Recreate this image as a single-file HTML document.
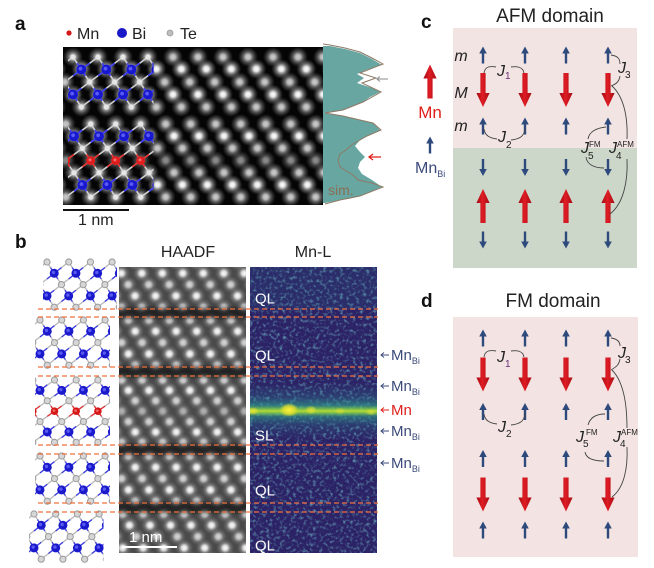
<!DOCTYPE html>
<html><head><meta charset="utf-8"><style>
html,body{margin:0;padding:0;background:#fff;}
svg{display:block;}
</style></head><body>
<svg width="654" height="568" viewBox="0 0 654 568" xmlns="http://www.w3.org/2000/svg" font-family="'Liberation Sans', Arial, sans-serif">
<defs>
  <radialGradient id="blobA">
    <stop offset="0" stop-color="#ffffff" stop-opacity="1"/>
    <stop offset="0.25" stop-color="#f0f0f0" stop-opacity="0.95"/>
    <stop offset="0.55" stop-color="#a8a8a8" stop-opacity="0.6"/>
    <stop offset="1" stop-color="#707070" stop-opacity="0"/>
  </radialGradient>
  <radialGradient id="blobB">
    <stop offset="0" stop-color="#ffffff" stop-opacity="1"/>
    <stop offset="0.3" stop-color="#e8e8e8" stop-opacity="0.9"/>
    <stop offset="0.6" stop-color="#a0a0a0" stop-opacity="0.45"/>
    <stop offset="1" stop-color="#707070" stop-opacity="0"/>
  </radialGradient>
  <radialGradient id="yel">
    <stop offset="0" stop-color="#fff23a" stop-opacity="1"/>
    <stop offset="0.6" stop-color="#e4e030" stop-opacity="0.8"/>
    <stop offset="1" stop-color="#c0dc30" stop-opacity="0"/>
  </radialGradient>
  <linearGradient id="band" x1="0" y1="0" x2="0" y2="1">
    <stop offset="0" stop-color="#2a7f8e" stop-opacity="0"/>
    <stop offset="0.25" stop-color="#2a7f8e" stop-opacity="0.3"/>
    <stop offset="0.4" stop-color="#2f9a88" stop-opacity="0.7"/>
    <stop offset="0.46" stop-color="#7ccc50" stop-opacity="0.85"/>
    <stop offset="0.5" stop-color="#b4dc30" stop-opacity="1"/>
    <stop offset="0.54" stop-color="#7ccc50" stop-opacity="0.85"/>
    <stop offset="0.6" stop-color="#2f9a88" stop-opacity="0.6"/>
    <stop offset="0.76" stop-color="#2a7f8e" stop-opacity="0.25"/>
    <stop offset="1" stop-color="#2a7f8e" stop-opacity="0"/>
  </linearGradient>
  <linearGradient id="redG" x1="0" y1="0" x2="1" y2="0">
    <stop offset="0" stop-color="#a00a12"/>
    <stop offset="0.45" stop-color="#e01c24"/>
    <stop offset="1" stop-color="#a80c14"/>
  </linearGradient>
  <filter id="nz" x="0" y="0" width="1" height="1">
    <feTurbulence type="fractalNoise" baseFrequency="0.3" numOctaves="2" seed="7"/>
    <feColorMatrix type="matrix" values="0 0 0 0 0.15  0 0 0 0 0.45  0 0 0 0 0.55  2.6 0 0 0 -1.3"/>
  </filter>
  <filter id="bl2"><feGaussianBlur stdDeviation="2"/></filter>

  <clipPath id="clipImgA"><rect x="63" y="47" width="260" height="158"/></clipPath>
  <clipPath id="clipImgB"><rect x="119" y="267" width="127" height="286"/></clipPath>
  <clipPath id="clipMn"><rect x="250" y="267" width="127" height="286"/></clipPath>
  <clipPath id="cA1"><rect x="68" y="50" width="85.6" height="62"/></clipPath>
  <clipPath id="cA2"><rect x="68" y="117" width="85.6" height="87"/></clipPath>
  <clipPath id="cB1"><rect x="43" y="255" width="74" height="57"/></clipPath>
  <clipPath id="cB2"><rect x="35" y="313" width="75" height="57"/></clipPath>
  <clipPath id="cB3"><rect x="35" y="373" width="75" height="75"/></clipPath>
  <clipPath id="cB4"><rect x="35" y="449" width="75" height="57"/></clipPath>
  <clipPath id="cB5"><rect x="29" y="507" width="74.5" height="61"/></clipPath>

  <g id="rowA">
    <circle cx="0" r="10" fill="url(#blobA)"/><circle cx="25" r="10" fill="url(#blobA)"/>
    <circle cx="50" r="10" fill="url(#blobA)"/><circle cx="75" r="10" fill="url(#blobA)"/>
    <circle cx="100" r="10" fill="url(#blobA)"/><circle cx="125" r="10" fill="url(#blobA)"/>
    <circle cx="150" r="10" fill="url(#blobA)"/><circle cx="175" r="10" fill="url(#blobA)"/>
    <circle cx="200" r="10" fill="url(#blobA)"/><circle cx="225" r="10" fill="url(#blobA)"/>
    <circle cx="250" r="10" fill="url(#blobA)"/><circle cx="275" r="10" fill="url(#blobA)"/>
    <circle cx="300" r="10" fill="url(#blobA)"/><circle cx="325" r="10" fill="url(#blobA)"/>
  </g>
  <g id="rowB">
    <circle cx="0" r="9" fill="url(#blobB)"/><circle cx="20.5" r="9" fill="url(#blobB)"/>
    <circle cx="41" r="9" fill="url(#blobB)"/><circle cx="61.5" r="9" fill="url(#blobB)"/>
    <circle cx="82" r="9" fill="url(#blobB)"/><circle cx="102.5" r="9" fill="url(#blobB)"/>
    <circle cx="123" r="9" fill="url(#blobB)"/><circle cx="143.5" r="9" fill="url(#blobB)"/>
    <circle cx="164" r="9" fill="url(#blobB)"/>
  </g>

  <g id="teB"><circle r="3.1" fill="#d6d6d6" stroke="#9a9a9a" stroke-width="1"/></g>
  <g id="biB"><path d="M0,0L-3.62,-5.65M0,0L3.62,5.65M0,0L7.24,-5.65M0,0L-7.24,5.65" stroke="#3a3ae6" stroke-width="1.3"/><circle r="4.5" fill="#1a1acc"/><circle cx="-0.8" cy="-0.8" r="1.7" fill="#5a5af0"/></g>
  <g id="mnB"><path d="M0,0L-3.62,-5.2M0,0L3.62,5.2M0,0L7.24,-5.2M0,0L-7.24,5.2" stroke="#e03030" stroke-width="1.3"/><circle r="3.8" fill="#d41818"/><circle cx="-0.6" cy="-0.6" r="1.4" fill="#f06060"/></g>
  <g id="teA"><circle r="2.6" fill="#e6e6e6"/></g>
  <g id="biA"><path d="M0,0L-4.17,-6.25M0,0L4.17,6.25M0,0L8.33,-6.25M0,0L-8.33,6.25" stroke="#3a3aff" stroke-width="1.6"/><circle r="5" fill="#1818d0"/><circle cx="-0.9" cy="-0.9" r="1.9" fill="#5a5af5"/></g>
  <g id="mnA"><path d="M0,0L-4.17,-6.1M0,0L4.17,6.1M0,0L8.33,-6.1M0,0L-8.33,6.1" stroke="#e83030" stroke-width="1.6"/><circle r="4.4" fill="#e01c1c"/><circle cx="-0.7" cy="-0.7" r="1.5" fill="#f56a6a"/></g>

  <path id="qlBbu" d="M0,0L7.23,11.3L14.47,22.6L21.7,33.9L28.93,45.2M0,0L-14.47,11.3M7.23,11.3L-7.24,22.6M14.47,22.6L0,33.9M21.7,33.9L7.23,45.2" fill="none" stroke="#b8b8b8" stroke-width="1.3"/>
  <g id="qlBau"><use href="#biB" x="7.23" y="11.3"/><use href="#biB" x="21.7" y="33.9"/><use href="#teB" x="0" y="0"/><use href="#teB" x="14.47" y="22.6"/><use href="#teB" x="28.93" y="45.2"/></g>
  <path id="slBbu" d="M0,0L7.23,10.4L14.47,20.8L21.7,31.2L28.93,41.6L36.17,52L43.4,62.4M0,0L-14.47,10.4M7.23,10.4L-7.24,20.8M14.47,20.8L0,31.2M21.7,31.2L7.23,41.6M28.93,41.6L14.46,52M36.17,52L21.7,62.4" fill="none" stroke="#b8b8b8" stroke-width="1.3"/>
  <g id="slBau"><use href="#teB" x="0" y="0"/><use href="#biB" x="7.23" y="10.4"/><use href="#teB" x="14.47" y="20.8"/><use href="#mnB" x="21.7" y="31.2"/><use href="#teB" x="28.93" y="41.6"/><use href="#biB" x="36.17" y="52"/><use href="#teB" x="43.4" y="62.4"/></g>

  <g id="qlBb"><use href="#qlBbu" x="-86.8"/><use href="#qlBbu" x="-65.1"/><use href="#qlBbu" x="-43.4"/><use href="#qlBbu" x="-21.7"/><use href="#qlBbu" x="0"/><use href="#qlBbu" x="21.7"/><use href="#qlBbu" x="43.4"/><use href="#qlBbu" x="65.1"/><use href="#qlBbu" x="86.8"/></g>
  <g id="qlBa"><use href="#qlBau" x="-86.8"/><use href="#qlBau" x="-65.1"/><use href="#qlBau" x="-43.4"/><use href="#qlBau" x="-21.7"/><use href="#qlBau" x="0"/><use href="#qlBau" x="21.7"/><use href="#qlBau" x="43.4"/><use href="#qlBau" x="65.1"/><use href="#qlBau" x="86.8"/></g>
  <g id="slBb"><use href="#slBbu" x="-86.8"/><use href="#slBbu" x="-65.1"/><use href="#slBbu" x="-43.4"/><use href="#slBbu" x="-21.7"/><use href="#slBbu" x="0"/><use href="#slBbu" x="21.7"/><use href="#slBbu" x="43.4"/><use href="#slBbu" x="65.1"/><use href="#slBbu" x="86.8"/></g>
  <g id="slBa"><use href="#slBau" x="-86.8"/><use href="#slBau" x="-65.1"/><use href="#slBau" x="-43.4"/><use href="#slBau" x="-21.7"/><use href="#slBau" x="0"/><use href="#slBau" x="21.7"/><use href="#slBau" x="43.4"/><use href="#slBau" x="65.1"/><use href="#slBau" x="86.8"/></g>

  <path id="qlAbu" d="M0,0L8.33,12.5L16.67,25L25,37.5L33.33,50M0,0L-16.67,12.5M8.33,12.5L-8.34,25M16.67,25L0,37.5M25,37.5L8.33,50" fill="none" stroke="#d0d0d0" stroke-width="1.6"/>
  <g id="qlAau"><use href="#biA" x="8.33" y="12.5"/><use href="#biA" x="25" y="37.5"/><use href="#teA" x="0" y="0"/><use href="#teA" x="16.67" y="25"/><use href="#teA" x="33.33" y="50"/></g>
  <path id="slAbu" d="M0,0L8.33,12.2L16.67,24.4L25,36.6L33.33,48.8L41.67,61L50,73.2M0,0L-16.67,12.2M8.33,12.2L-8.34,24.4M16.67,24.4L0,36.6M25,36.6L8.33,48.8M33.33,48.8L16.66,61M41.67,61L25,73.2" fill="none" stroke="#d0d0d0" stroke-width="1.6"/>
  <g id="slAau"><use href="#teA" x="0" y="0"/><use href="#biA" x="8.33" y="12.2"/><use href="#teA" x="16.67" y="24.4"/><use href="#mnA" x="25" y="36.6"/><use href="#teA" x="33.33" y="48.8"/><use href="#biA" x="41.67" y="61"/><use href="#teA" x="50" y="73.2"/></g>
  <g id="qlAb"><use href="#qlAbu" x="-100"/><use href="#qlAbu" x="-75"/><use href="#qlAbu" x="-50"/><use href="#qlAbu" x="-25"/><use href="#qlAbu" x="0"/><use href="#qlAbu" x="25"/><use href="#qlAbu" x="50"/><use href="#qlAbu" x="75"/><use href="#qlAbu" x="100"/></g>
  <g id="qlAa"><use href="#qlAau" x="-100"/><use href="#qlAau" x="-75"/><use href="#qlAau" x="-50"/><use href="#qlAau" x="-25"/><use href="#qlAau" x="0"/><use href="#qlAau" x="25"/><use href="#qlAau" x="50"/><use href="#qlAau" x="75"/><use href="#qlAau" x="100"/></g>
  <g id="slAb"><use href="#slAbu" x="-100"/><use href="#slAbu" x="-75"/><use href="#slAbu" x="-50"/><use href="#slAbu" x="-25"/><use href="#slAbu" x="0"/><use href="#slAbu" x="25"/><use href="#slAbu" x="50"/><use href="#slAbu" x="75"/><use href="#slAbu" x="100"/></g>
  <g id="slAa"><use href="#slAau" x="-100"/><use href="#slAau" x="-75"/><use href="#slAau" x="-50"/><use href="#slAau" x="-25"/><use href="#slAau" x="0"/><use href="#slAau" x="25"/><use href="#slAau" x="50"/><use href="#slAau" x="75"/><use href="#slAau" x="100"/></g>

  <path id="sU" d="M-1.2,8.5V-1.5H-3.8L0,-8.5L3.8,-1.5H1.2V8.5Z" fill="#2e4a7d"/>
  <path id="sD" d="M-1.2,-8.5V1.5H-3.8L0,8.5L3.8,1.5H1.2V-8.5Z" fill="#2e4a7d"/>
  <path id="bD" d="M-2.6,-17H2.6V3H6.6L0,17L-6.6,3H-2.6Z" fill="url(#redG)"/>
  <path id="bU" d="M-2.6,17H2.6V-3H6.6L0,-17L-6.6,-3H-2.6Z" fill="url(#redG)"/>
  <g id="rSU"><use href="#sU" x="483"/><use href="#sU" x="525"/><use href="#sU" x="566"/><use href="#sU" x="608"/></g>
  <g id="rSD"><use href="#sD" x="483"/><use href="#sD" x="525"/><use href="#sD" x="566"/><use href="#sD" x="608"/></g>
  <g id="rBD"><use href="#bD" x="483"/><use href="#bD" x="525"/><use href="#bD" x="566"/><use href="#bD" x="608"/></g>
  <g id="rBU"><use href="#bU" x="483"/><use href="#bU" x="525"/><use href="#bU" x="566"/><use href="#bU" x="608"/></g>
</defs>

<rect width="654" height="568" fill="#fff"/>

<!-- ================= Panel a ================= -->
<text x="15" y="30" font-size="19" font-weight="bold" fill="#111">a</text>
<circle cx="69" cy="33" r="2.6" fill="#d41818"/>
<text x="77" y="39" font-size="16" fill="#222">Mn</text>
<circle cx="122" cy="33" r="5" fill="#1818c8"/>
<text x="132" y="39" font-size="16" fill="#222">Bi</text>
<circle cx="170" cy="33" r="3" fill="#bdbdbd" stroke="#999" stroke-width="0.8"/>
<text x="180" y="39" font-size="16" fill="#222">Te</text>

<g clip-path="url(#clipImgA)">
  <rect x="63" y="47" width="260" height="158" fill="#050505"/>
  <use href="#rowA" x="23" y="57" opacity="0.8"/>
  <use href="#rowA" x="31.3" y="69" opacity="1"/>
  <use href="#rowA" x="39.7" y="82" opacity="0.8"/>
  <use href="#rowA" x="48" y="94.5" opacity="1"/>
  <use href="#rowA" x="31.3" y="107" opacity="0.8"/>
  <use href="#rowA" x="15.7" y="124" opacity="0.8"/>
  <use href="#rowA" x="24" y="136" opacity="1"/>
  <use href="#rowA" x="32.4" y="148.2" opacity="0.8"/>
  <use href="#rowA" x="40.7" y="160.4" opacity="0.55"/>
  <use href="#rowA" x="49" y="172.6" opacity="0.8"/>
  <use href="#rowA" x="32.4" y="184.8" opacity="1"/>
  <use href="#rowA" x="40.7" y="197" opacity="0.8"/>
</g>
<g clip-path="url(#cA1)">
  <use href="#qlAb" x="73" y="57"/><use href="#qlAa" x="73" y="57"/>
</g>
<g clip-path="url(#cA2)">
  <use href="#slAb" x="65.7" y="124"/><use href="#slAa" x="65.7" y="124"/>
</g>
<line x1="63" y1="210" x2="129" y2="210" stroke="#111" stroke-width="2"/>
<text x="78" y="225" font-size="16" fill="#222">1 nm</text>

<polygon points="323,46 330,46 345,49 360,53 372,59 382,65 366,70 357,74 364,78 357,83 372,88 380,92 370,97 363,102 350,107 343,110 330,112 324,113 330,114 343,116 360,120 373,123 380,130 367,136 360,140 355,146 360,152 365,157 360,162 358,168 362,174 372,180 382,187 370,192 360,196 348,199 340,200 325,203 323,203" fill="#68a6a2"/>
<path d="M323,44 L330,45 L345,48 L360,52 L372,58 L383,64 L360,73 L376,78 L362,83 L381,92 L363,102 L343,110 L325,113 L343,116 L360,120 L373,123 L381,130 L367,136 L360,140 L353,144 L346,150 L340,154 L338,160 L340,167 L346,171 L353,175 L358,180 L372,183 L383,187 L360,196 L340,200 L325,204" fill="none" stroke="#8e7a66" stroke-width="1"/>
<path d="M388,79 H377 M380,76.5 L377,79 L380,81.5" fill="none" stroke="#8a8a8a" stroke-width="1"/>
<path d="M381,157 H369 M373,154 L369,157 L373,160" fill="none" stroke="#e0201a" stroke-width="1.3"/>
<text x="328" y="195" font-size="14" fill="#8b6e55">sim.</text>

<!-- ================= Panel b ================= -->
<text x="15" y="248" font-size="19" font-weight="bold" fill="#111">b</text>
<text x="188" y="257" font-size="16" fill="#222" text-anchor="middle">HAADF</text>
<text x="313" y="257" font-size="16" fill="#222" text-anchor="middle">Mn-L</text>

<g clip-path="url(#cB1)"><use href="#qlBb" x="47" y="262"/><use href="#qlBa" x="47" y="262"/></g>
<g clip-path="url(#cB2)"><use href="#qlBb" x="40" y="320"/><use href="#qlBa" x="40" y="320"/></g>
<g clip-path="url(#cB3)"><use href="#slBb" x="32.8" y="380"/><use href="#slBa" x="32.8" y="380"/></g>
<g clip-path="url(#cB4)"><use href="#qlBb" x="40" y="456"/><use href="#qlBa" x="40" y="456"/></g>
<g clip-path="url(#cB5)"><use href="#qlBb" x="34" y="514"/><use href="#qlBa" x="34" y="514"/></g>

<g clip-path="url(#clipImgB)">
  <rect x="119" y="267" width="127" height="286" fill="#4a4a4a"/>
  <use href="#rowB" x="94" y="262" opacity="0.8"/>
  <use href="#rowB" x="100.8" y="273.3" opacity="1"/>
  <use href="#rowB" x="107.7" y="284.6" opacity="0.8"/>
  <use href="#rowB" x="94" y="295.9" opacity="1"/>
  <use href="#rowB" x="100.8" y="307.2" opacity="0.8"/>
  <use href="#rowB" x="107.9" y="320" opacity="0.8"/>
  <use href="#rowB" x="94.2" y="331.3" opacity="1"/>
  <use href="#rowB" x="101.1" y="342.6" opacity="0.8"/>
  <use href="#rowB" x="107.9" y="353.9" opacity="1"/>
  <use href="#rowB" x="94.2" y="365.2" opacity="0.8"/>
  <use href="#rowB" x="101.1" y="380" opacity="0.8"/>
  <use href="#rowB" x="107.9" y="390.4" opacity="1"/>
  <use href="#rowB" x="94.2" y="400.8" opacity="0.8"/>
  <use href="#rowB" x="101.1" y="411.2" opacity="0.6"/>
  <use href="#rowB" x="107.9" y="421.6" opacity="0.8"/>
  <use href="#rowB" x="94.2" y="432" opacity="1"/>
  <use href="#rowB" x="101.1" y="442.4" opacity="0.8"/>
  <use href="#rowB" x="107.9" y="456" opacity="0.8"/>
  <use href="#rowB" x="94.2" y="467.3" opacity="1"/>
  <use href="#rowB" x="101.1" y="478.6" opacity="0.8"/>
  <use href="#rowB" x="107.9" y="489.9" opacity="1"/>
  <use href="#rowB" x="94.2" y="501.2" opacity="0.8"/>
  <use href="#rowB" x="102.2" y="514" opacity="0.8"/>
  <use href="#rowB" x="109" y="525.3" opacity="1"/>
  <use href="#rowB" x="95.3" y="536.6" opacity="0.8"/>
  <use href="#rowB" x="102.2" y="547.9" opacity="1"/>
  <use href="#rowB" x="109" y="559.2" opacity="0.8"/>
  <g filter="url(#bl2)" fill="#0c0c0c" opacity="0.65">
    <rect x="110" y="308" width="145" height="10"/>
    <rect x="110" y="366.5" width="145" height="10"/>
    <rect x="110" y="444.5" width="145" height="10"/>
    <rect x="110" y="502.5" width="145" height="10"/>
  </g>
</g>
<line x1="122" y1="547" x2="177" y2="547" stroke="#fff" stroke-width="2"/>
<text x="129" y="542" font-size="15" fill="#fff">1 nm</text>

<g clip-path="url(#clipMn)">
  <rect x="250" y="267" width="127" height="286" fill="#2c2366"/>
  <rect x="250" y="267" width="127" height="286" filter="url(#nz)" opacity="0.8"/>
  <rect x="250" y="267" width="127" height="42" fill="#2a7f8e" opacity="0.12"/>
  <rect x="250" y="383" width="127" height="56" fill="url(#band)"/>
  <ellipse cx="289" cy="410" rx="10" ry="7" fill="url(#yel)"/>
  <ellipse cx="311" cy="410" rx="6" ry="4.5" fill="url(#yel)" opacity="0.6"/>
  <ellipse cx="253" cy="411" rx="6" ry="4" fill="url(#yel)" opacity="0.7"/>
  <ellipse cx="340" cy="411" rx="6" ry="3.5" fill="url(#yel)" opacity="0.4"/>
  <ellipse cx="371" cy="412" rx="6" ry="3.5" fill="url(#yel)" opacity="0.5"/>
</g>
<g font-size="15" fill="#fff">
  <text x="255" y="303.5">QL</text>
  <text x="255" y="360.5">QL</text>
  <text x="255" y="440.5">SL</text>
  <text x="255" y="495.5">QL</text>
  <text x="255" y="550.5">QL</text>
</g>

<path d="M38,309H378M38,317H378M38,367H378M38,376H378M38,445H378M38,454H378M38,503H378M38,512H378" stroke="#f0703f" stroke-width="1.2" stroke-dasharray="5 3" fill="none"/>

<g stroke="#3b4a7a" stroke-width="1" fill="none">
  <path d="M389,355H381M384,352.5L381,355L384,357.5"/>
  <path d="M389,386H381M384,383.5L381,386L384,388.5"/>
  <path d="M389,431H381M384,428.5L381,431L384,433.5"/>
  <path d="M389,463H381M384,460.5L381,463L384,465.5"/>
</g>
<path d="M389,410H381M384,407.5L381,410L384,412.5" stroke="#e0201a" stroke-width="1" fill="none"/>
<g font-size="15" fill="#3b4a7a">
  <text x="391" y="360">Mn<tspan font-size="9" dy="4">Bi</tspan></text>
  <text x="391" y="391">Mn<tspan font-size="9" dy="4">Bi</tspan></text>
  <text x="391" y="436">Mn<tspan font-size="9" dy="4">Bi</tspan></text>
  <text x="391" y="468">Mn<tspan font-size="9" dy="4">Bi</tspan></text>
</g>
<text x="391" y="415" font-size="15" fill="#e0201a">Mn</text>

<!-- ================= Panel c ================= -->
<text x="421" y="28" font-size="19" font-weight="bold" fill="#111">c</text>
<text x="550" y="22" font-size="19" fill="#222" text-anchor="middle">AFM domain</text>
<rect x="453" y="28" width="184" height="120" fill="#f2e4e3"/>
<rect x="453" y="148" width="184" height="120" fill="#cdd7c9"/>

<use href="#bU" x="430" y="81.5"/>
<text x="430" y="118" font-size="17" fill="#e0201a" text-anchor="middle">Mn</text>
<use href="#sU" x="430" y="145"/>
<text x="415" y="173" font-size="16" fill="#3b4a7a">Mn<tspan font-size="9" dy="4">Bi</tspan></text>

<g font-size="16" font-style="italic" fill="#222">
  <text x="461" y="61" text-anchor="middle">m</text>
  <text x="461" y="98" text-anchor="middle">M</text>
  <text x="461" y="131" text-anchor="middle">m</text>
</g>

<use href="#rSU" y="55"/>
<use href="#rBD" y="90"/>
<use href="#rSU" y="126"/>
<use href="#rSD" y="167.5"/>
<use href="#rBU" y="206"/>
<use href="#rSD" y="240"/>

<g fill="none" stroke="#444" stroke-width="0.9">
  <path d="M484,73 C485,66 491,66 496,67"/>
  <path d="M511,67 C517,66 523,67 524,73"/>
  <path d="M484,129 C485,136 490,138 497,139"/>
  <path d="M511,140 C519,139 524,137 525,129"/>
  <path d="M611,55 C618,56 620,59 620,64"/>
  <path d="M620,76 C619,82 616,84 611,86"/>
  <path d="M612,86 C623,96 628,115 627,139"/>
  <path d="M627,159 C628,180 624,203 610,214"/>
  <path d="M606,127 C596,128 589,132 588,139"/>
  <path d="M586,157 C587,165 595,168 604,168"/>
</g>
<g fill="#222">
  <text x="497" y="76" font-size="16" font-style="italic">J</text><text x="505" y="79" font-size="10" fill="#6a2f7a">1</text>
  <text x="498" y="142" font-size="16" font-style="italic">J</text><text x="506" y="148" font-size="10">2</text>
  <text x="618" y="73" font-size="16" font-style="italic">J</text><text x="625" y="78" font-size="10">3</text>
  <text x="609" y="153" font-size="16" font-style="italic">J</text><text x="616" y="159" font-size="10">4</text><text x="617" y="147" font-size="8">AFM</text>
  <text x="581" y="153" font-size="16" font-style="italic">J</text><text x="588" y="159" font-size="10">5</text><text x="589" y="147" font-size="8">FM</text>
</g>

<!-- ================= Panel d ================= -->
<text x="421" y="307" font-size="19" font-weight="bold" fill="#111">d</text>
<text x="553" y="307" font-size="19" fill="#222" text-anchor="middle">FM domain</text>
<rect x="453" y="317" width="185" height="240" fill="#f3e4e3"/>

<use href="#rSU" y="338"/>
<use href="#rBD" y="374.5"/>
<use href="#rSU" y="411.5"/>
<use href="#rSU" y="458.5"/>
<use href="#rBD" y="494.5"/>
<use href="#rSU" y="530"/>

<g fill="none" stroke="#444" stroke-width="0.9">
  <path d="M484,357 C485,350 491,350 496,351"/>
  <path d="M511,351 C517,350 523,351 524,357"/>
  <path d="M484,414 C485,421 490,423 497,424"/>
  <path d="M511,425 C519,424 524,422 525,414"/>
  <path d="M611,338 C618,339 620,342 620,346"/>
  <path d="M620,359 C619,365 616,367 611,370"/>
  <path d="M612,370 C622,380 627,400 627,428"/>
  <path d="M627,447 C628,468 624,488 612,497"/>
  <path d="M605,414 C595,414 590,418 588,425"/>
  <path d="M585,452 C586,458 593,461 604,461"/>
</g>
<g fill="#222">
  <text x="497" y="362" font-size="16" font-style="italic">J</text><text x="505" y="367" font-size="10" fill="#6a2f7a">1</text>
  <text x="498" y="432" font-size="16" font-style="italic">J</text><text x="506" y="437" font-size="10">2</text>
  <text x="618" y="358" font-size="16" font-style="italic">J</text><text x="625" y="363" font-size="10">3</text>
  <text x="613" y="442" font-size="16" font-style="italic">J</text><text x="620" y="447" font-size="10">4</text><text x="621" y="435" font-size="8">AFM</text>
  <text x="576" y="442" font-size="16" font-style="italic">J</text><text x="583" y="447" font-size="10">5</text><text x="586" y="435" font-size="8">FM</text>
</g>
</svg>
</body></html>
